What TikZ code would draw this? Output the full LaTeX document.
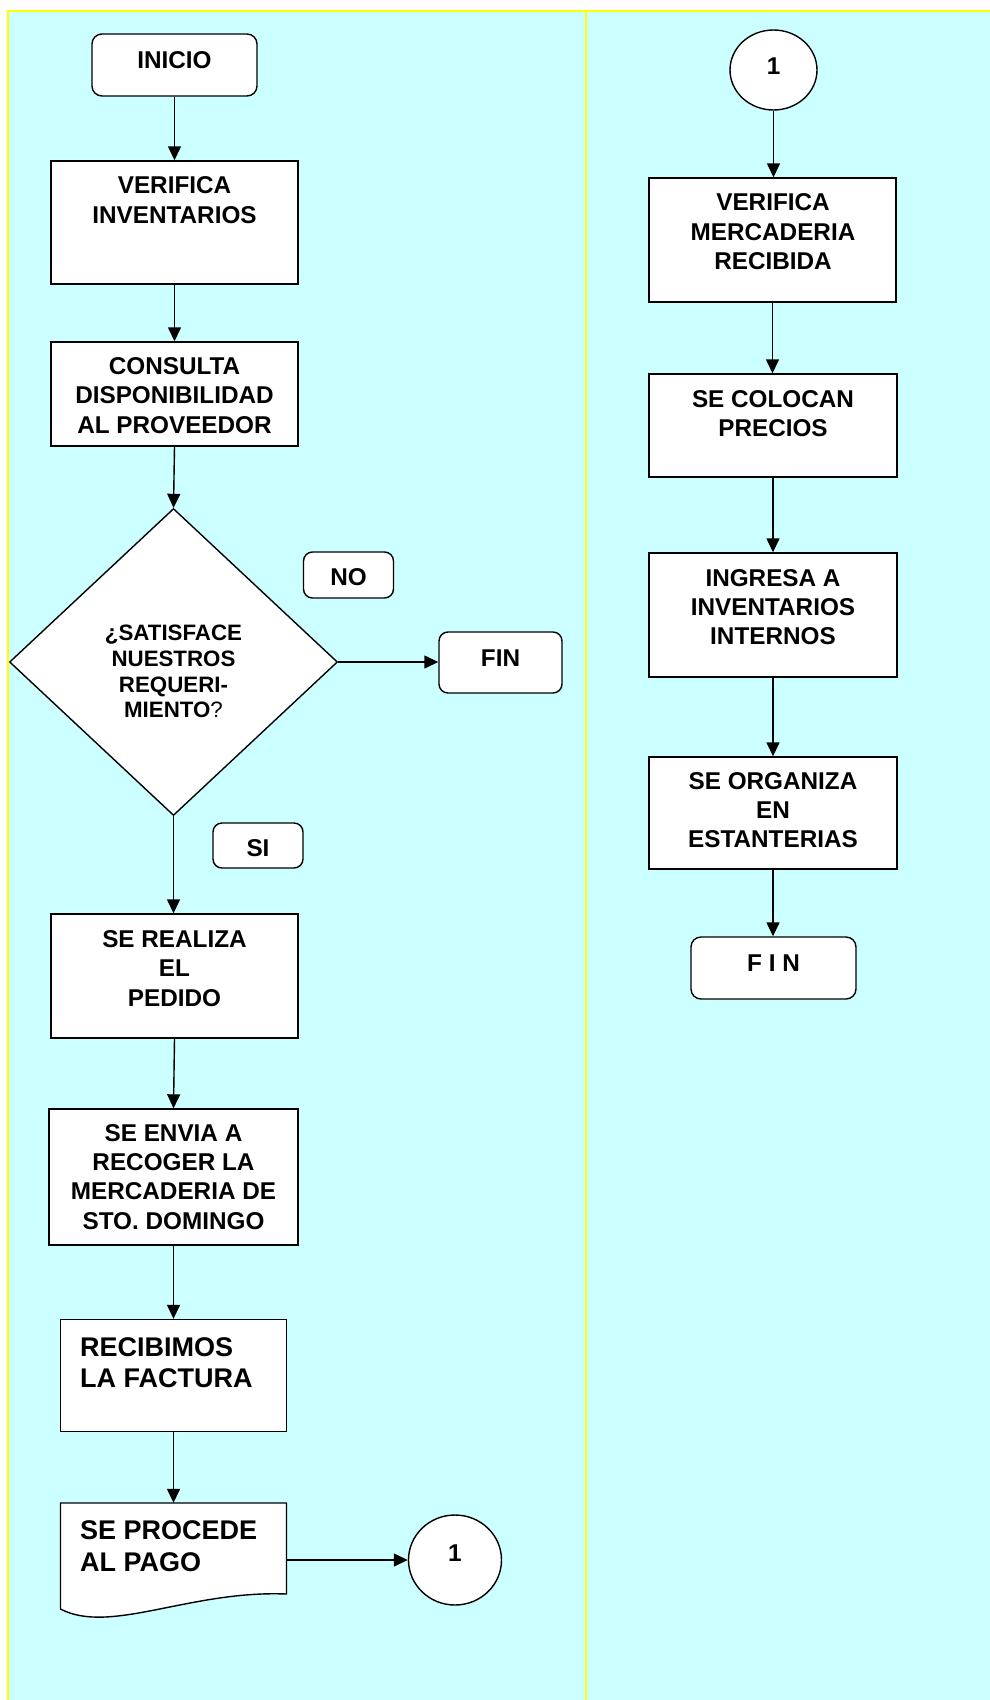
\documentclass[tikz,border=0pt]{standalone}
\usepackage{fontspec}
\setmainfont{Liberation Sans}
\usetikzlibrary{shapes.geometric,arrows.meta,calc}
\definecolor{bgcyan}{HTML}{CCFFFF}
\definecolor{frameyellow}{HTML}{FFFF00}
\tikzset{
  box/.style={draw=black, fill=white, line width=1.4pt, rectangle, inner sep=0pt},
  rbox/.style={box, rounded corners=9pt},
  txt/.style={inner sep=0pt, align=center, text depth=0pt, font=\bfseries\fontsize{24.3}{29.3}\selectfont},
  bigtxt/.style={inner sep=0pt, align=left, text depth=0pt, anchor=west, font=\bfseries\fontsize{27}{31.5}\selectfont},
  diatxt/.style={inner sep=0pt, align=center, text depth=0pt, font=\bfseries\fontsize{22.3}{25.7}\selectfont},
  arr/.style={line width=1.4pt, -{Triangle[length=14pt,width=13pt]}},
}
\begin{document}
\begin{tikzpicture}[x=1pt,y=-1pt]
\useasboundingbox (0,0) rectangle (990,1700);
\fill[white] (0,0) rectangle (990,1700);
\begin{scope}
  \clip (0,0) rectangle (990,1700);
  \filldraw[fill=bgcyan, draw=frameyellow, line width=2pt] (8,11) rectangle (1000,1710);
  \draw[frameyellow, line width=2pt] (586,11) -- (586,1710);
\end{scope}

% ---------- left column ----------
\node[rbox, rounded corners=10pt, minimum width=165pt, minimum height=62pt] (inicio) at (174.5,65) {};
\node[txt] (tinicio) at (174.5,60.5) {INICIO};

\node[box, minimum width=247pt, minimum height=123pt] (verinv) at (174.5,222.5) {};
\node[txt] (tverinv) at (174.5,200) {VERIFICA\\INVENTARIOS};

\node[box, minimum width=247pt, minimum height=104pt] (consulta) at (174.5,394) {};
\node[txt] (tconsulta) at (174.5,395.3) {CONSULTA\\DISPONIBILIDAD\\AL PROVEEDOR};

\node[diamond, draw=black, fill=white, line width=1.4pt, inner sep=0pt, minimum width=328pt, minimum height=307pt] (dia) at (173.5,662) {};
\node[diatxt] (tdia) at (173.5,671.5) {¿SATISFACE\\NUESTROS\\REQUERI-\\MIENTO{\mdseries ?}};

\node[rbox, minimum width=90pt, minimum height=46pt] (no) at (348.5,575) {};
\node[txt] (tno) at (348.5,577) {NO};

\node[rbox, minimum width=123pt, minimum height=61pt] (fin1) at (500.5,662.5) {};
\node[txt] (tfin1) at (500.5,658) {FIN};

\node[rbox, minimum width=90pt, minimum height=45pt] (si) at (258,845.5) {};
\node[txt] (tsi) at (258,848) {SI};

\node[box, minimum width=247pt, minimum height=124pt] (realiza) at (174.5,976) {};
\node[txt] (trealiza) at (174.5,968.3) {SE REALIZA\\EL\\PEDIDO};

\node[box, minimum width=249pt, minimum height=136pt] (envia) at (173.5,1177) {};
\node[txt] (tenvia) at (173.5,1176.7) {SE ENVIA A\\RECOGER LA\\MERCADERIA DE\\STO. DOMINGO};

\node[box, minimum width=226pt, minimum height=112pt] (recib) at (173.5,1375.5) {};
\node[bigtxt] (trecib) at (80,1362.5) {RECIBIMOS\\LA FACTURA};

\node[draw=none, inner sep=0pt, minimum width=226pt, minimum height=91pt] (doc) at (173.5,1548.5) {};
\filldraw[fill=white, draw=black, line width=1.4pt]
  (60.5,1503) -- (286.5,1503) -- (286.5,1594)
  .. controls (190,1590) and (110,1635) .. (60.5,1609) -- cycle;
\node[bigtxt] (tdoc) at (80,1546) {SE PROCEDE\\AL PAGO};

\node[ellipse, draw=black, fill=white, line width=1.4pt, inner sep=0pt, minimum width=93pt, minimum height=90pt] (c1) at (455,1560) {};
\node[txt] (tc1) at (455,1553.5) {1};

% ---------- right column ----------
\node[ellipse, draw=black, fill=white, line width=1.4pt, inner sep=0pt, minimum width=87pt, minimum height=80pt] (c2) at (773.5,70) {};
\node[txt] (tc2) at (773.5,66) {1};

\node[box, minimum width=247pt, minimum height=124pt] (vermer) at (772.5,240) {};
\node[txt] (tvermer) at (773,231.7) {VERIFICA\\MERCADERIA\\RECIBIDA};

\node[box, minimum width=248pt, minimum height=103pt] (colocan) at (773,425.5) {};
\node[txt] (tcolocan) at (773,413.4) {SE COLOCAN\\PRECIOS};

\node[box, minimum width=248pt, minimum height=124pt] (ingresa) at (773,615) {};
\node[txt] (tingresa) at (773,607) {INGRESA A\\INVENTARIOS\\INTERNOS};

\node[box, minimum width=248pt, minimum height=112pt] (organiza) at (773,813) {};
\node[txt] (torganiza) at (773,810) {SE ORGANIZA\\EN\\ESTANTERIAS};

\node[rbox, rounded corners=10pt, minimum width=165pt, minimum height=62pt] (fin2) at (773.5,968) {};
\node[txt] (tfin2) at (773.5,963) {F I N};

% ---------- connectors ----------
\draw[arr] (inicio.south) -- (verinv.north);
\draw[arr] (verinv.south) -- (consulta.north);
\draw[arr] (consulta.south) -- (dia.north);
\draw[arr] (dia.east) -- (fin1.west |- dia.east);
\draw[arr] (dia.south) -- (realiza.north -| dia.south);
\draw[arr] (realiza.south) -- (envia.north);
\draw[arr] (envia.south) -- (recib.north);
\draw[arr] (recib.south) -- (doc.north);
\draw[arr] (doc.east |- c1.west) -- (c1.west);

\draw[arr] (c2.south) -- (vermer.north -| c2.south);
\draw[arr] (vermer.south) -- (colocan.north -| vermer.south);
\draw[arr] (colocan.south) -- (ingresa.north);
\draw[arr] (ingresa.south) -- (organiza.north);
\draw[arr] (organiza.south) -- (fin2.north -| organiza.south);
\end{tikzpicture}
\end{document}
